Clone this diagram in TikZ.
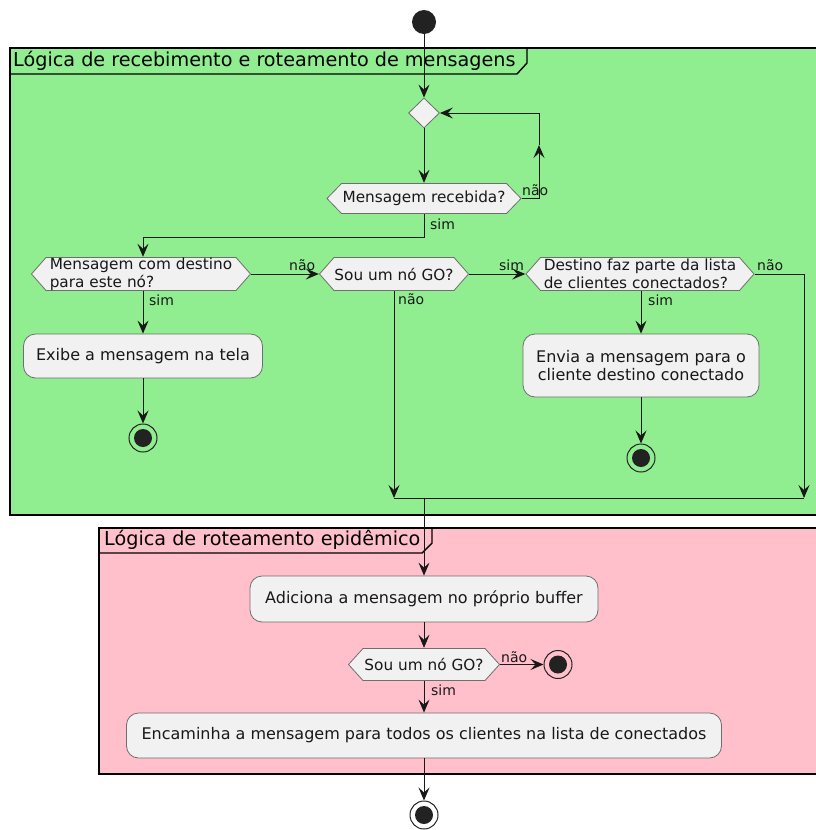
\documentclass[tikz,border=0pt]{standalone}
\usepackage{fontspec}
\setmainfont{DejaVu Sans}
\usetikzlibrary{arrows.meta,shapes.geometric}
\definecolor{ink}{HTML}{181818}
\definecolor{dot}{HTML}{222222}
\definecolor{boxfill}{HTML}{F1F1F1}
\definecolor{boxline}{HTML}{6E6E6E}
\definecolor{grn}{HTML}{90EE90}
\definecolor{pnk}{HTML}{FFC0CB}

\begin{document}
\begin{tikzpicture}[x=1pt,y=-1pt,
  arr/.style={draw=ink, line width=1pt, -{Stealth[length=13pt,width=11pt,inset=5pt]}},
  wire/.style={draw=ink, line width=1pt},
  frame/.style={draw=black, line width=1.4pt},
  title/.style={font=\fontsize{19.2}{22}\selectfont, text=black, inner sep=0pt, anchor=west},
  activity/.style={rectangle, rounded corners=12pt, draw=boxline, line width=0.8pt,
    fill=boxfill, inner sep=0pt, font=\fontsize{16}{18.5}\selectfont, text=ink, align=center},
  decision/.style={rectangle, inner sep=0pt, font=\fontsize{15.3}{18}\selectfont, text=ink,
    path picture={\filldraw[fill=boxfill, draw=boxline, line width=0.8pt]
      ([xshift=0.5pt]path picture bounding box.west) --
      ([xshift=15pt,yshift=-0.5pt]path picture bounding box.north west) --
      ([xshift=-15pt,yshift=-0.5pt]path picture bounding box.north east) --
      ([xshift=-0.5pt]path picture bounding box.east) --
      ([xshift=-15pt,yshift=0.5pt]path picture bounding box.south east) --
      ([xshift=15pt,yshift=0.5pt]path picture bounding box.south west) -- cycle;}},
  lbl/.style={font=\fontsize{14}{16}\selectfont, text=ink, inner sep=0pt, anchor=west},
  startn/.style={circle, fill=dot, minimum size=24pt, inner sep=0pt},
  stopn/.style={circle, draw=dot, line width=1pt, minimum size=28pt, inner sep=0pt,
    path picture={\fill[dot] (path picture bounding box.center) circle (9pt);}},
  mergen/.style={diamond, draw=boxline, fill=boxfill, line width=0.8pt,
    minimum width=31pt, minimum height=30pt, inner sep=0pt}
]
\useasboundingbox (0,0) rectangle (815,830);

% --- partition: message reception and routing
\fill[grn] (10,48) rectangle (818,515);
\draw[frame] (10,48) rectangle (818,515);
\draw[frame] (10,74) -- (517,74) -- (527,63) -- (527,48);
\node[title] (t1) at (13,61) {Lógica de recebimento e roteamento de mensagens};

% --- partition: epidemic routing
\fill[pnk] (99,528) rectangle (818,774);
\draw[frame] (99,528) rectangle (818,774);
\draw[frame] (99,553) -- (422,553) -- (432,543) -- (432,528);
\node[title] (t2) at (104,540) {Lógica de roteamento epidêmico};

% --- nodes
\node[startn] (start) at (424,22) {};
\node[mergen] (merge) at (424,113) {};
\node[decision, minimum width=195pt, minimum height=31pt] (recv) at (424,198.5) {Mensagem recebida?};
\node[decision, minimum width=220pt, minimum height=34pt, align=left] (dest) at (141,274)
  {Mensagem com destino\\para este nó?};
\node[decision, minimum width=150pt, minimum height=34pt] (go1) at (394,274) {Sou um nó GO?};
\node[decision, minimum width=229pt, minimum height=34pt, align=left] (list) at (640,274)
  {Destino faz parte da lista\\de clientes conectados?};
\node[activity, minimum width=239pt, minimum height=44pt] (show) at (143,356) {Exibe a mensagem na tela};
\node[activity, minimum width=236pt, minimum height=63pt] (send) at (641,365.5)
  {Envia a mensagem para o\\cliente destino conectado};
\node[stopn] (stop1) at (143,438) {};
\node[stopn] (stop2) at (641,458) {};

\node[activity, minimum width=348pt, minimum height=46pt] (buf) at (424,599)
  {Adiciona a mensagem no próprio buffer};
\node[decision, minimum width=152pt, minimum height=33pt] (go2) at (424,664.5) {Sou um nó GO?};
\node[stopn] (stop3) at (558,664.5) {};
\node[activity, minimum width=595pt, minimum height=45pt] (fwd) at (424,735.5)
  {Encaminha a mensagem para todos os clientes na lista de conectados};
\node[stopn] (stop4) at (424,815) {};

% --- routing points
\coordinate (loopA) at (539,198.5);
\coordinate (loopB) at (539,145);
\coordinate (loopC) at (539,113);
\coordinate (split) at (424,237);
\coordinate (joinL) at (394,498);
\coordinate (joinM) at (424,498);
\coordinate (joinR) at (804,498);

% --- connectors
\draw[arr] (start) -- (merge);
\draw[arr] (merge) -- (recv);
\draw[wire] (recv.east) -- (loopA);
\draw[arr] (loopA) -- (loopB);
\draw[arr] (loopB) -- (loopC) -- (merge.east);
\draw[arr] (recv.south) -- (split) -| (show.north |- dest.north);
\draw[arr] (dest.east) -- (go1.west);
\draw[arr] (show.north |- dest.south) -- (show.north);
\draw[arr] (show.south) -- (stop1.north);
\draw[arr] (go1.east) -- (list.west);
\draw[arr] (send.north |- list.south) -- (send.north);
\draw[arr] (send.south) -- (stop2.north);
\draw[arr] (list.east) -| (joinR);
\draw[arr] (go1.south) -- (joinL);
\draw[wire] (joinL) -- (joinR);
\draw[arr] (joinM) -- (buf.north);
\draw[arr] (buf.south) -- (go2.north);
\draw[arr] (go2.east) -- (stop3.west);
\draw[arr] (go2.south) -- (fwd.north);
\draw[arr] (fwd.south) -- (stop4.north);

% --- branch labels
\node[lbl] (l1) at (522,190) {não};
\node[lbl] (l2) at (430,224) {sim};
\node[lbl] (l3) at (289,265) {não};
\node[lbl] (l4) at (149,300) {sim};
\node[lbl] (l5) at (398,299) {não};
\node[lbl] (l6) at (499,265) {sim};
\node[lbl] (l7) at (648,300) {sim};
\node[lbl] (l8) at (757,265) {não};
\node[lbl] (l9) at (501,657) {não};
\node[lbl] (l10) at (431,690) {sim};
\end{tikzpicture}
\end{document}
